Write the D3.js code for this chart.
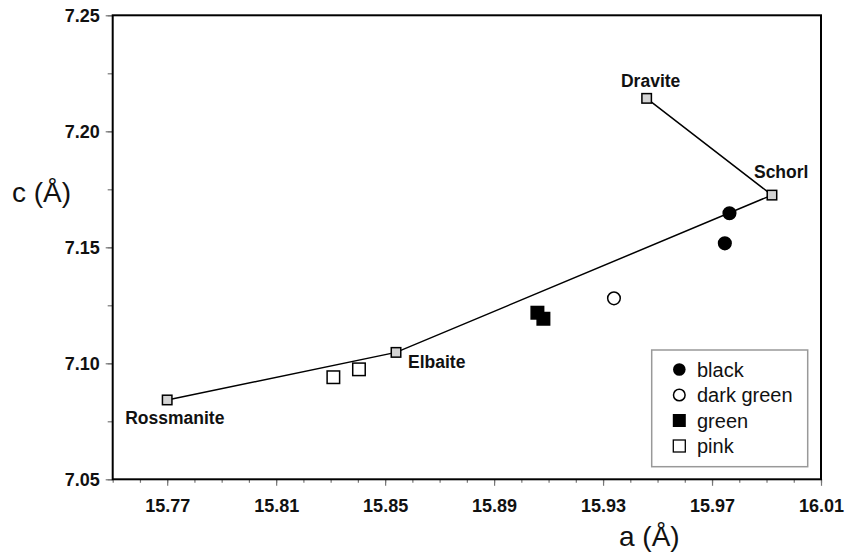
<!DOCTYPE html>
<html>
<head>
<meta charset="utf-8">
<script src="https://cdn.jsdelivr.net/npm/d3@7"></script>
<style>
  body { margin: 0; background: #fff; }
  svg { display: block; }
  text { font-family: "Liberation Sans", Arial, sans-serif; }
</style>
</head>
<body>
<svg id="chart" width="845" height="553"></svg>
<script>
// ---- data ----
const endMembers = ["Rossmanite", "Elbaite", "Schorl", "Dravite"];
const endA = [15.770, 15.854, 15.992, 15.946];
const endC = [7.0842, 7.1047, 7.1725, 7.2142];

const blackA = [15.9764, 15.9747];
const blackC = [7.1647, 7.1517];
const darkGreenA = [15.934];
const darkGreenC = [7.128];
const greenA = [15.9059, 15.9081];
const greenC = [7.1218, 7.1192];
const pinkA = [15.831, 15.8404];
const pinkC = [7.094, 7.0974];

const legendLabels = ["black", "dark green", "green", "pink"];
const xMajorTicks = [15.77, 15.81, 15.85, 15.89, 15.93, 15.97, 16.01];
const yMajorTicks = [7.05, 7.10, 7.15, 7.20, 7.25];

// ---- layout ----
const svg = d3.select("#chart");
const L = 112.7, R = 821, T = 15.3, B = 479.3;
const x = d3.scaleLinear().domain([15.75, 16.01]).range([L, R]);
const y = d3.scaleLinear().domain([7.05, 7.25]).range([B, T]);

const xMinor = d3.range(0, 27).map(i => +(15.75 + i * 0.01).toFixed(2));
const yMinor = d3.range(0, 9).map(i => +(7.05 + i * 0.025).toFixed(3));

// minor ticks
const gxm = svg.append("g").attr("transform", `translate(0,${B})`)
  .call(d3.axisBottom(x).tickValues(xMinor).tickSize(3.5).tickFormat(""));
const gym = svg.append("g").attr("transform", `translate(${L},0)`)
  .call(d3.axisLeft(y).tickValues(yMinor).tickSize(5).tickFormat(""));
[gxm, gym].forEach(g => { g.select(".domain").remove(); g.selectAll("line").attr("stroke", "#777").attr("stroke-width", 1.2); });

// major ticks
const gx = svg.append("g").attr("transform", `translate(0,${B})`)
  .call(d3.axisBottom(x).tickValues(xMajorTicks).tickSize(6.5).tickPadding(13).tickFormat(d3.format(".2f")));
const gy = svg.append("g").attr("transform", `translate(${L},0)`)
  .call(d3.axisLeft(y).tickValues(yMajorTicks).tickSize(7).tickPadding(6).tickFormat(d3.format(".2f")));
[gx, gy].forEach(g => {
  g.select(".domain").remove();
  g.selectAll("line").attr("stroke", "#777").attr("stroke-width", 1.2);
  g.selectAll("text").attr("font-size", 18).attr("font-weight", "bold").attr("fill", "#111")
    .style("font-family", '"Liberation Sans", Arial, sans-serif');
});
gy.selectAll("text").attr("dy", "0.34em");

// frame
svg.append("rect").attr("x", L).attr("y", T).attr("width", R - L).attr("height", B - T)
  .attr("fill", "none").attr("stroke", "#000").attr("stroke-width", 2);

// axis titles
svg.append("text").attr("x", 12).attr("y", 202).attr("font-size", 28).attr("fill", "#111").text("c (Å)");
svg.append("text").attr("x", 619).attr("y", 546).attr("font-size", 28).attr("fill", "#111").text("a (Å)");

// end-member line
const ends = endMembers.map((n, i) => ({ name: n, a: endA[i], c: endC[i] }));
svg.append("path").datum(ends)
  .attr("d", d3.line().x(d => x(d.a)).y(d => y(d.c)))
  .attr("fill", "none").attr("stroke", "#000").attr("stroke-width", 1.5);

// data markers
function circles(A, C, fill) {
  svg.append("g").selectAll("circle").data(A.map((a, i) => [a, C[i]])).join("circle")
    .attr("cx", d => x(d[0])).attr("cy", d => y(d[1])).attr("r", 6.3)
    .attr("fill", fill).attr("stroke", "#000").attr("stroke-width", 1.5);
}
function squares(A, C, fill, s) {
  svg.append("g").selectAll("rect").data(A.map((a, i) => [a, C[i]])).join("rect")
    .attr("x", d => x(d[0]) - s / 2).attr("y", d => y(d[1]) - s / 2)
    .attr("width", s).attr("height", s)
    .attr("fill", fill).attr("stroke", "#000").attr("stroke-width", 1.5);
}
circles(blackA, blackC, "#000");
circles(darkGreenA, darkGreenC, "#fff");
squares(greenA, greenC, "#000", 12.5);
squares(pinkA, pinkC, "#fff", 12.5);
squares(endA, endC, "#d4d4d4", 9.5);

// end-member labels
const labelPos = {
  "Rossmanite": { dx: -42, dy: 24, anchor: "start" },
  "Elbaite": { dx: 12, dy: 16, anchor: "start" },
  "Schorl": { dx: -18, dy: -17, anchor: "start" },
  "Dravite": { dx: 4, dy: -11, anchor: "middle" }
};
svg.append("g").selectAll("text").data(ends).join("text")
  .attr("x", d => x(d.a) + labelPos[d.name].dx)
  .attr("y", d => y(d.c) + labelPos[d.name].dy)
  .attr("text-anchor", d => labelPos[d.name].anchor)
  .attr("font-size", 17.5).attr("font-weight", "bold").attr("fill", "#111")
  .text(d => d.name);

// legend
const lg = svg.append("g");
lg.append("rect").attr("x", 651.7).attr("y", 350).attr("width", 156).attr("height", 116.7)
  .attr("fill", "#fff").attr("stroke", "#999").attr("stroke-width", 1.5);
const legendRows = legendLabels.map((l, i) => ({ label: l, i }));
legendRows.forEach(({ label, i }) => {
  const cy = 369.5 + i * 25.5, cx = 679.3;
  if (i === 0) lg.append("circle").attr("cx", cx).attr("cy", cy).attr("r", 6.3).attr("fill", "#000");
  if (i === 1) lg.append("circle").attr("cx", cx).attr("cy", cy).attr("r", 5.8).attr("fill", "#fff").attr("stroke", "#000").attr("stroke-width", 1.5);
  if (i === 2) lg.append("rect").attr("x", cx - 6.5).attr("y", cy - 6.5).attr("width", 13).attr("height", 13).attr("fill", "#000");
  if (i === 3) lg.append("rect").attr("x", cx - 6).attr("y", cy - 6).attr("width", 12).attr("height", 12).attr("fill", "#fff").attr("stroke", "#000").attr("stroke-width", 1.3);
  lg.append("text").attr("x", 697).attr("y", cy + 7).attr("font-size", 20).attr("fill", "#111").text(label);
});
</script>
</body>
</html>
